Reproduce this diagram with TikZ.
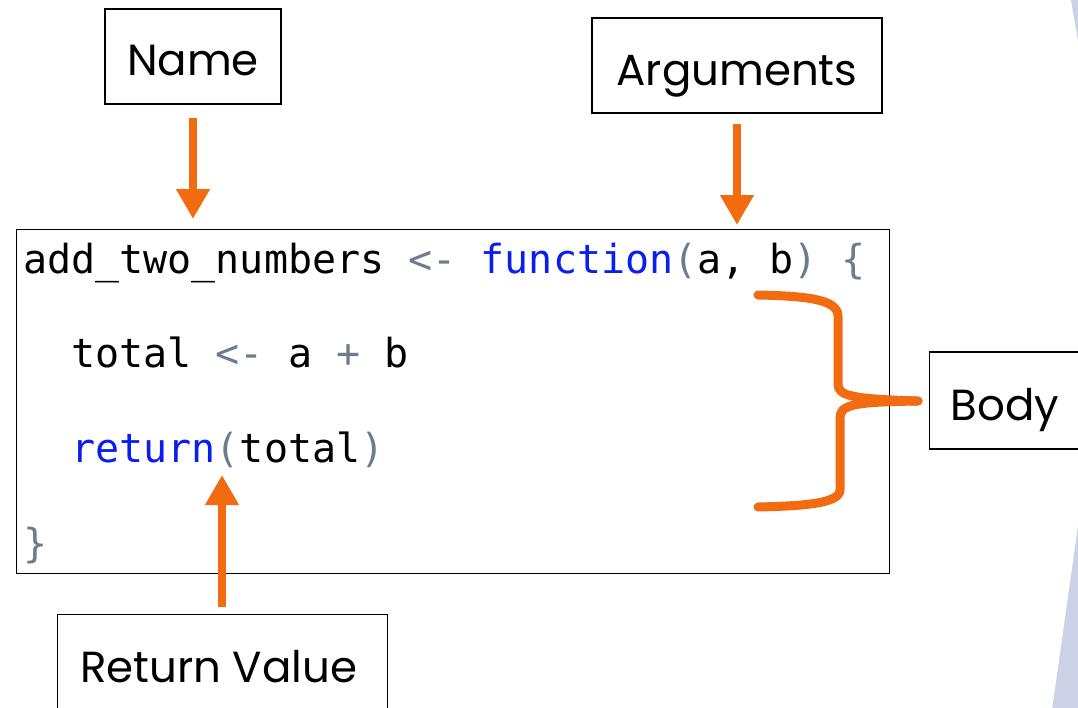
\documentclass[tikz,border=0pt]{standalone}
\usepackage{fontspec}
\setmainfont{Poppins}
\setmonofont{DejaVu Sans Mono}
\usetikzlibrary{arrows.meta}
\definecolor{orng}{HTML}{F26B11}
\definecolor{kwblue}{HTML}{0A1EF0}
\definecolor{opgray}{HTML}{6B7C8F}
\definecolor{deco}{HTML}{CBD1E7}
\tikzset{
  label box/.style={draw=black, line width=1.2pt, fill=white, font=\fontsize{43.5}{46}\selectfont, inner sep=0pt, text depth=0pt},
  callout/.style={draw=orng, line width=8pt, -{Triangle[length=30pt,width=32pt]}},
  code/.style={anchor=base west, inner sep=0pt, font=\ttfamily\fontsize{40}{44}\selectfont},
  bracepath/.style={draw=orng, line width=9pt, line cap=round, line join=round}
}
\begin{document}
\begin{tikzpicture}[x=1pt,y=-1pt]
\useasboundingbox (0,0) rectangle (1078,707);
\clip (0,0) rectangle (1078,707);
\fill[white] (0,0) rectangle (1078,707);
% decorative shapes at right edge
\fill[deco] (1071,0) -- (1080,0) -- (1080,52) -- cycle;
\fill[deco] (1080,512) -- (1080,710) -- (1052,710) -- cycle;
% code box
\node[draw=black, line width=1.2pt, minimum width=873pt, minimum height=344pt, anchor=north west, inner sep=0pt] (code) at (16,229) {};
% code lines
\node[code] (l1) at (23,273) {add\_two\_numbers \textcolor{opgray}{<-} \textcolor{kwblue}{function}\textcolor{opgray}{(}a, b\textcolor{opgray}{)} \textcolor{opgray}{\{}};
\node[code] (l2) at (23,367) {\phantom{xx}total \textcolor{opgray}{<-} a \textcolor{opgray}{+} b};
\node[code] (l3) at (23,462) {\phantom{xx}\textcolor{kwblue}{return}\textcolor{opgray}{(}total\textcolor{opgray}{)}};
\node[code] (l4) at (23,557) {\textcolor{opgray}{\}}};
% label boxes
\node[label box, text height=37pt, minimum width=176pt, minimum height=95pt] (name) at (193,56.5) {Name};
\node[label box, text height=39pt, minimum width=290pt, minimum height=95pt] (args) at (737,65.5) {Arguments};
\node[label box, text height=39pt, minimum width=170pt, minimum height=97pt, anchor=west, text width=150pt, align=left] (body) at (929,400.5) {\hspace*{11pt}Body};
\node[label box, text height=26pt, minimum width=330pt, minimum height=110pt, anchor=north west] (ret) at (57,614) {\hspace*{-8pt}Return Value};
% arrow end coordinates
\coordinate (nameS) at (193,118);
\coordinate (nameE) at (193,219);
\coordinate (argsS) at (737,124);
\coordinate (argsE) at (737,225);
\coordinate (retS) at (222,607);
\coordinate (retE) at (222,475);
\draw[callout] (nameS) -- (nameE);
\draw[callout] (argsS) -- (argsE);
\draw[callout] (retS) -- (retE);
% brace
\coordinate (bTop) at (758,295);
\coordinate (bBot) at (758,507);
\coordinate (bTip) at (918,401);
\draw[bracepath] (bTop) .. controls (805,296) and (838,299) .. (838,316) -- (838,384)
  .. controls (838,396) and (852,399) .. (bTip);
\draw[bracepath] (bTip) .. controls (852,402) and (840,405) .. (840,418) -- (840,490)
  .. controls (840,504) and (800,506) .. (bBot);
\end{tikzpicture}
\end{document}
